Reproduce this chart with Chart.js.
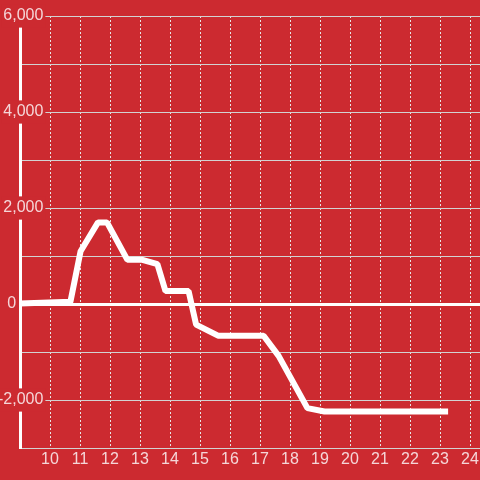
<!DOCTYPE html>
<html>
<head>
<meta charset="utf-8">
<script src="https://cdn.jsdelivr.net/npm/chart.js@4/dist/chart.umd.min.js"></script>
<style>
  html, body { margin: 0; padding: 0; background: #cc2a30; }
  #wrap { width: 480px; height: 480px; }
</style>
</head>
<body>
<div id="wrap"><canvas id="myChart" width="480" height="480"></canvas></div>
<script>
// hour of day (x) and value (y)
const hours  = [9, 10.68, 11.02, 11.6, 11.9, 12.58, 13.08, 13.58, 13.85, 14.62, 14.87, 15.6, 17.12, 17.62, 18.58, 19.15, 23.17];
const values = [10, 45, 1100, 1700, 1700, 920, 920, 830, 270, 270, -430, -660, -660, -1080, -2170, -2240, -2240];

const yMin = -3000, yMax = 6000, yStep = 1000;
const xMin = 9, xMax = 24.333;

const bg = '#cc2a30';
const gridGray = '#d2d2d2';
const labelColor = '#f5d6d8';

// background of the whole canvas
const bgPlugin = {
    id: 'bg',
    beforeDraw(chart) {
        const c = chart.ctx;
        c.save();
        c.fillStyle = bg;
        c.fillRect(0, 0, chart.width, chart.height);
        c.restore();
    }
};

const points = hours.map((h, i) => ({x: h, y: values[i]}));

const ctx = document.getElementById('myChart').getContext('2d');
const lineChart = new Chart(ctx, {
    type: 'line',
    data: {
        datasets: [{
            data: points,
            borderColor: '#ffffff',
            borderWidth: 6,
            borderCapStyle: 'square',
            borderJoinStyle: 'bevel',
            pointRadius: 0,
            tension: 0,
            fill: false
        }]
    },
    options: {
        responsive: false,
        animation: false,
        layout: { padding: { left: 20, top: 16, right: 0, bottom: 0 } },
        plugins: { legend: { display: false }, tooltip: { enabled: false } },
        scales: {
            x: {
                type: 'linear',
                min: xMin,
                max: xMax,
                afterFit(scale) { scale.height = 32; scale.paddingLeft = 0; scale.paddingRight = 0; },
                ticks: {
                    stepSize: 1,
                    includeBounds: false,
                    color: labelColor,
                    padding: 2,
                    font: { family: 'Liberation Sans', size: 16 },
                    maxRotation: 0,
                    autoSkip: false,
                    callback: (v) => v === 9 ? '' : String(v)
                },
                grid: {
                    color: '#e6e6e6',
                    lineWidth: 1,
                    drawTicks: false
                },
                border: { display: true, color: gridGray, width: 1, dash: [2, 2] }
            },
            y: {
                min: yMin,
                max: yMax,
                afterFit(scale) { scale.width = 0; },
                ticks: {
                    stepSize: yStep,
                    mirror: true,
                    crossAlign: 'far',
                    padding: -22,
                    color: labelColor,
                    font: { family: 'Liberation Sans', size: 16 },
                    showLabelBackdrop: (c) => c.tick && c.tick.value % 2000 === 0 && c.tick.value !== 0,
                    backdropColor: bg,
                    backdropPadding: 2,
                    callback: (v) => {
                        if (v === 0) return '0\u2002\u2002\u2002\u2009';
                        if (v % 2000 !== 0) return '';
                        return v.toLocaleString('en-US');
                    }
                },
                grid: {
                    color: (c) => c.tick && c.tick.value === 0 ? '#ffffff' : gridGray,
                    lineWidth: (c) => c.tick && c.tick.value === 0 ? 3 : 1,
                    drawTicks: false
                },
                border: { display: true, color: '#ffffff', width: 3 }
            }
        }
    },
    plugins: [bgPlugin]
});
</script>
</body>
</html>
